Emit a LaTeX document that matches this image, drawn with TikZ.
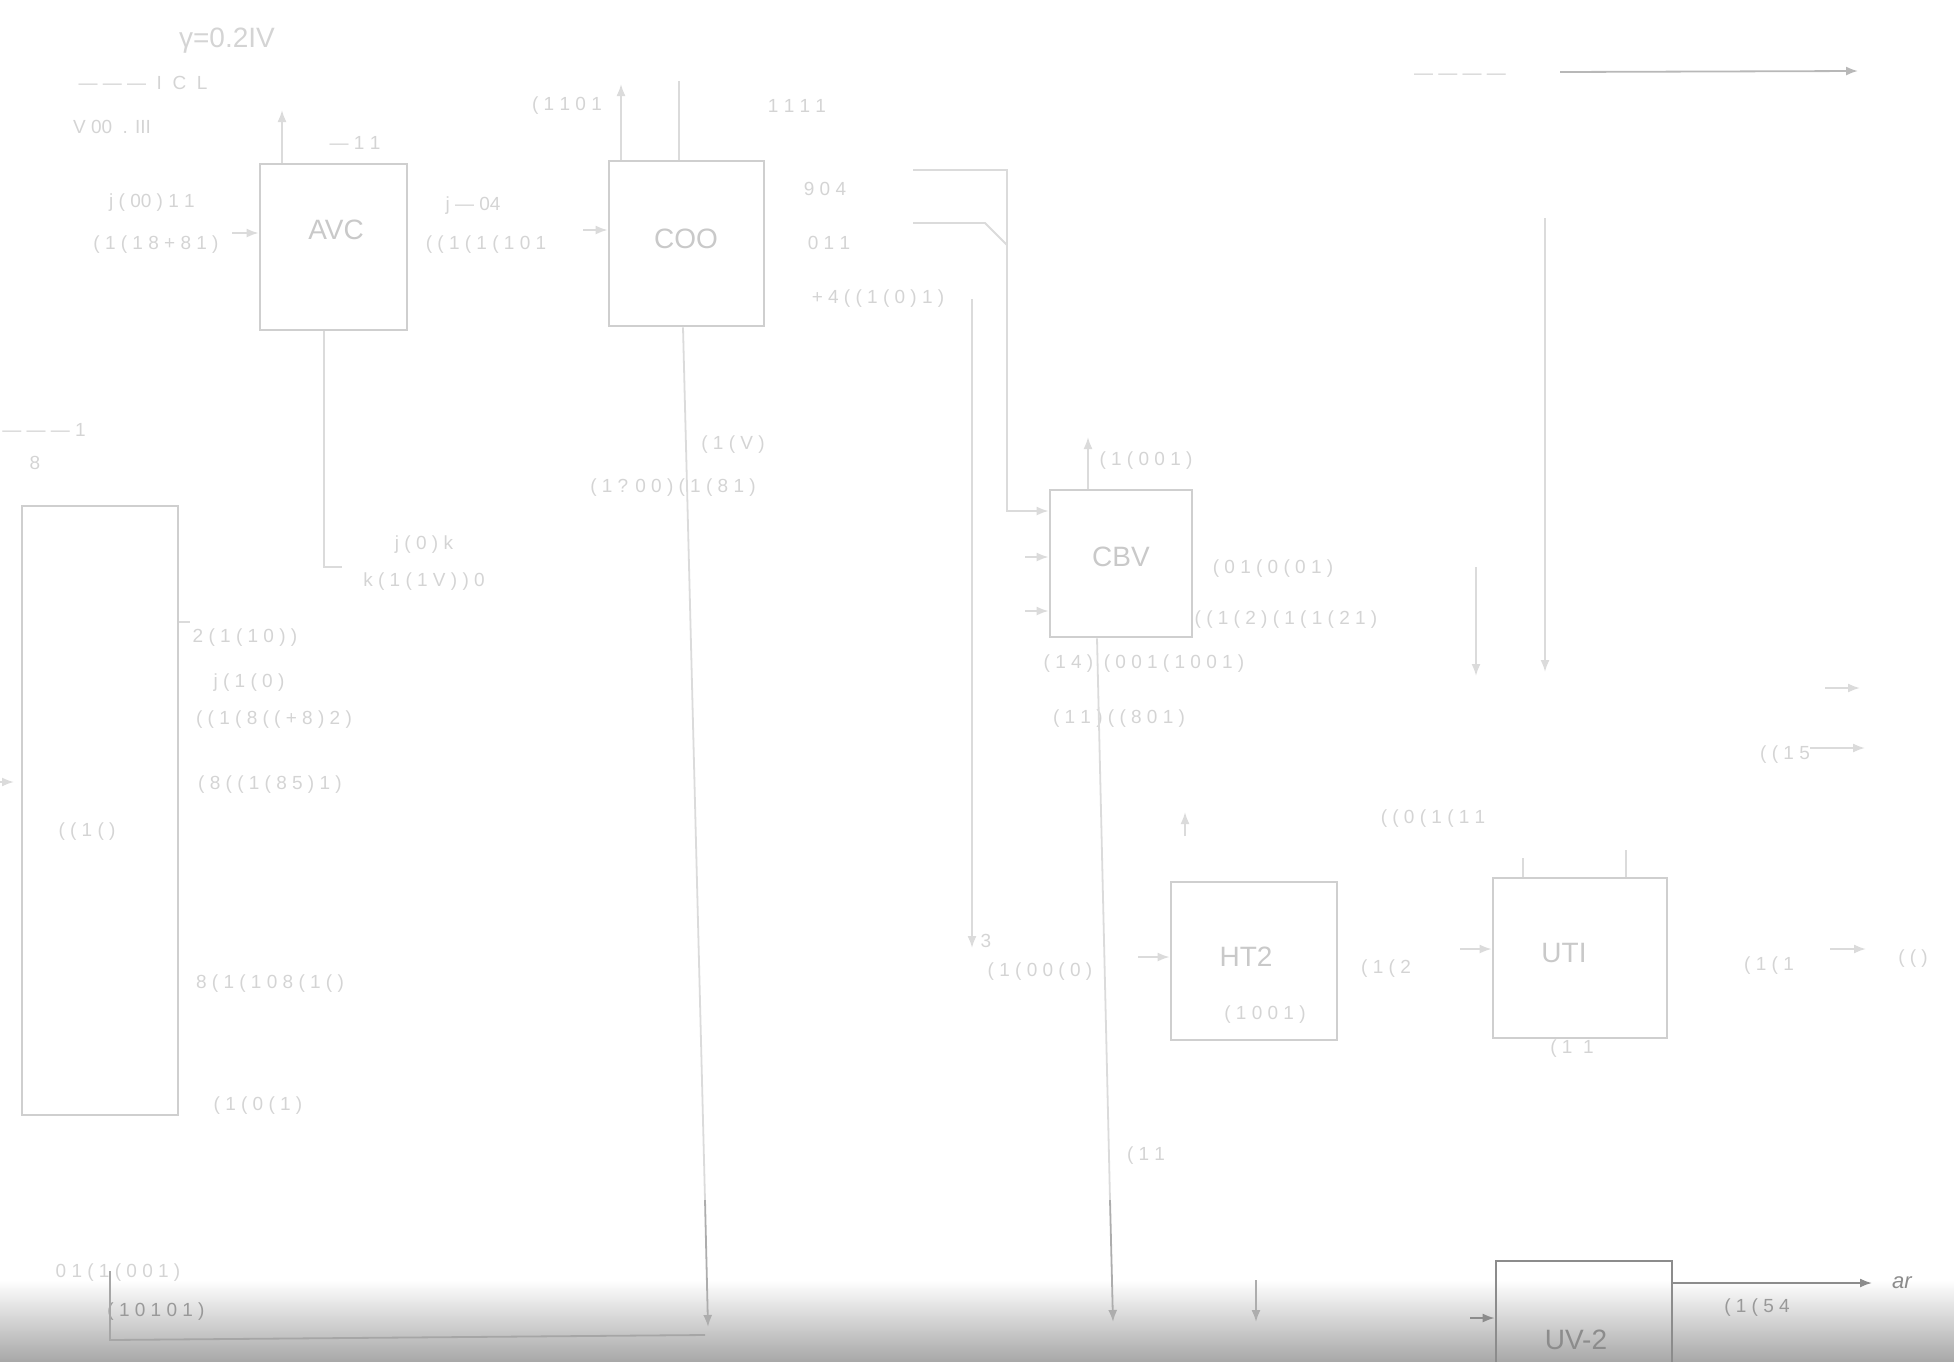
\documentclass[tikz,border=0pt]{standalone}
\usepackage{fontspec}
\setmainfont{Liberation Sans}
\usetikzlibrary{arrows.meta}
\begin{document}
\begin{tikzpicture}[x=0.5pt,y=-0.5pt,
 ln/.style={draw=black!14, line width=0.9pt},
 ar/.style={ln, -{Latex[length=6pt,width=4.5pt]}},
 bx/.style={draw=black!19, line width=1.4pt, inner sep=0pt, rectangle},
 tx/.style={text=black!17, font=\fontsize{9.5}{10}\selectfont, inner sep=0pt},
 lbl/.style={text=black!21, font=\fontsize{14}{16}\selectfont, inner sep=0pt},
 dk/.style={draw=black!45},
 md/.style={draw=black!32},
]
\useasboundingbox (0,0) rectangle (1954,1361);
\shade[top color=white, bottom color=black!34] (0,1280) rectangle (1954,1361);

% boxes
\node[bx, minimum width=73.5pt, minimum height=83pt] (avc) at (333.5,247) {};
\node[bx, minimum width=77.5pt, minimum height=82.5pt] (coo) at (686.5,243.5) {};
\node[bx, minimum width=71pt, minimum height=73.5pt] (cbv) at (1121,563.5) {};
\node[bx, minimum width=78pt, minimum height=304.5pt] (lft) at (100,810.5) {};
\node[bx, minimum width=83pt, minimum height=79pt] (ht) at (1254,961) {};
\node[bx, minimum width=87pt, minimum height=80pt] (ut) at (1580,958) {};
\node[bx, dk, minimum width=88pt, minimum height=55pt] (uv) at (1584,1316) {};

% box labels
\node[lbl] (lavc) at (336,230) {AVC};
\node[lbl] (lcoo) at (686,239) {COO};
\node[lbl] (lcbv) at (1121,557) {CBV};
\node[lbl] (lht) at (1246,957) {HT2};
\node[lbl] (lut) at (1564,953) {UTI};
\node[lbl, text=black!45] (luv) at (1576,1340) {UV-2};

% texts
\node[tx, font=\fontsize{14}{15}\selectfont] (t1) at (227,41) {γ=0.2IV};
\node[tx] (t2) at (143,83) {— — — \ I \ C \ L};
\node[tx] (t3) at (112,127) {V 00 \ . III};
\node[tx] (t4) at (355,143) {— 1 1};
\node[tx] (t5) at (152,203) {j ( 00 ) 1 1};
\node[tx] (t6) at (156,245) {( 1 ( 1 8 + 8 1 )};
\node[tx] (t7) at (473,206) {j — 04};
\node[tx] (t8) at (486,245) {( ( 1 ( 1 ( 1 0 1};
\node[tx] (t9) at (567,106) {( 1 1 0 1};
\node[tx] (t10) at (797,106) {1 1 1 1};
\node[tx] (t11) at (825,189) {9 0 4};
\node[tx] (t12) at (829,243) {0 1 1};
\node[tx] (t13) at (878,299) {+ 4 ( ( 1 ( 0 ) 1 )};
\node[tx] (t14) at (1146,461) {( 1 ( 0 0 1 )};
\node[tx] (t15) at (1273,569) {( 0 1 ( 0 ( 0 1 )};
\node[tx] (t16) at (1286,620) {( ( 1 ( 2 ) ( 1 ( 1 ( 2 1 )};
\node[tx] (t17) at (1144,664) {( 1 4 ) \ ( 0 0 1 ( 1 0 0 1 )};
\node[tx] (t18) at (1119,719) {( 1 1 ) ( ( 8 0 1 )};
\node[tx] (t19) at (1146,1156) {( 1 1};
\node[tx] (t20) at (1040,972) {( 1 ( 0 0 ( 0 )};
\node[tx] (t21) at (1265,1015) {( 1 0 0 1 )};
\node[tx] (t22) at (1433,819) {( ( 0 ( 1 ( 1 1};
\node[tx] (t23) at (1386,969) {( 1 ( 2};
\node[tx] (t24) at (1572,1049) {( 1 \ 1};
\node[tx] (t25) at (1769,966) {( 1 ( 1};
\node[tx] (t26) at (1913,959) {( ( )};
\node[tx] (t27) at (1785,755) {( ( 1 5};
\node[tx] (t28) at (44,430) {— — — 1};
\node[tx] (t29) at (35,463) {8};
\node[tx] (t30) at (245,638) {2 ( 1 ( 1 0 ) )};
\node[tx] (t31) at (249,683) {j ( 1 ( 0 )};
\node[tx] (t32) at (274,720) {( ( 1 ( 8 ( ( + 8 ) 2 )};
\node[tx] (t33) at (270,785) {( 8 ( ( 1 ( 8 5 ) 1 )};
\node[tx] (t34) at (270,984) {8 ( 1 ( 1 0 8 ( 1 ( )};
\node[tx] (t35) at (258,1106) {( 1 ( 0 ( 1 )};
\node[tx] (t36) at (87,832) {( ( 1 ( )};
\node[tx] (t37) at (424,545) {j ( 0 ) k};
\node[tx] (t38) at (424,582) {k ( 1 ( 1 V ) ) 0};
\node[tx] (t39) at (733,445) {( 1 ( V )};
\node[tx] (t40) at (673,488) {( 1 ? 0 0 ) ( 1 ( 8 1 )};
\node[tx] (t41) at (118,1273) {0 1 ( 1 ( 0 0 1 )};
\node[tx, text=black!40] (t42) at (156,1312) {( 1 0 1 0 1 )};
\node[tx, text=black!40] (t43) at (1757,1308) {( 1 ( 5 4};
\node[tx, text=black!45, font=\fontsize{11}{12}\selectfont\itshape] (t44) at (1902,1283) {ar};
\node[tx] (t45) at (986,941) {3};
\node[tx] (t46) at (1460,77) {— — — —};

% coordinates for free ends
\coordinate (avcUp) at (282,110);
\coordinate (avcIn) at (232,233);
\coordinate (cooIn) at (583,230);
\coordinate (cooUp) at (621,84);
\coordinate (cooTop) at (679,81);
\coordinate (r1) at (913,170);
\coordinate (r2) at (1007,170);
\coordinate (r3) at (1007,511);
\coordinate (r4) at (913,223);
\coordinate (r5) at (985,223);
\coordinate (r6) at (1007,245);
\coordinate (v1a) at (972,299);
\coordinate (v1b) at (972,948);
\coordinate (cbvUp) at (1088,437);
\coordinate (cbvI2) at (1025,557);
\coordinate (cbvI3) at (1025,611);
\coordinate (cbvX) at (1097,0);
\coordinate (cbvMid) at (1110,1200);
\coordinate (cbvDn) at (1113,1322);
\coordinate (v2a) at (1256,1280);
\coordinate (v2b) at (1256,1322);
\coordinate (htIn) at (1138,957);
\coordinate (htUpA) at (1185,836);
\coordinate (htUpB) at (1185,812);
\coordinate (utIn) at (1460,949);
\coordinate (utT1) at (1523,858);
\coordinate (utT2) at (1626,850);
\coordinate (utOa) at (1830,949);
\coordinate (utOb) at (1866,949);
\coordinate (rv1a) at (1545,218);
\coordinate (rv1b) at (1545,672);
\coordinate (rv2a) at (1476,567);
\coordinate (rv2b) at (1476,676);
\coordinate (ra1) at (1825,688);
\coordinate (ra2) at (1860,688);
\coordinate (rb1) at (1810,748);
\coordinate (rb2) at (1865,748);
\coordinate (tra) at (1560,72);
\coordinate (trb) at (1858,71);
\coordinate (avcX) at (324,0);
\coordinate (avcB1) at (324,567);
\coordinate (avcB2) at (342,567);
\coordinate (cooX) at (683,0);
\coordinate (cooMid) at (705,1200);
\coordinate (cooDn) at (708,1327);
\coordinate (lfT) at (190,622);
\coordinate (lfEa) at (0,782);
\coordinate (lfEb) at (14,782);
\coordinate (bl1) at (110,1271);
\coordinate (bl2) at (110,1340);
\coordinate (bl3) at (705,1335);
\coordinate (uvIn) at (1470,1318);
\coordinate (uvOut) at (1872,1283);

% connectors
\draw[ar] (avc.north -| avcUp) -- (avcUp);
\draw[ar] (avcIn) -- (avc.west |- avcIn);
\draw[ar] (cooIn) -- (coo.west |- cooIn);
\draw[ar] (coo.north -| cooUp) -- (cooUp);
\draw[ln] (coo.north -| cooTop) -- (cooTop);
\draw[ar] (r1) -- (r2) -- (r3) -- (cbv.west |- r3);
\draw[ln] (r4) -- (r5) -- (r6);
\draw[ar] (v1a) -- (v1b);
\draw[ar] (cbv.north -| cbvUp) -- (cbvUp);
\draw[ar] (cbvI2) -- (cbv.west |- cbvI2);
\draw[ar] (cbvI3) -- (cbv.west |- cbvI3);
\draw[ln] (cbv.south -| cbvX) -- (cbvMid);
\draw[ar, md] (cbvMid) -- (cbvDn);
\draw[ar, md] (v2a) -- (v2b);
\draw[ar] (htIn) -- (ht.west |- htIn);
\draw[ar] (htUpA) -- (htUpB);
\draw[ar] (utIn) -- (ut.west |- utIn);
\draw[ln] (ut.north -| utT1) -- (utT1);
\draw[ln] (ut.north -| utT2) -- (utT2);
\draw[ar] (utOa) -- (utOb);
\draw[ar] (rv1a) -- (rv1b);
\draw[ar] (rv2a) -- (rv2b);
\draw[ar] (ra1) -- (ra2);
\draw[ar] (rb1) -- (rb2);
\draw[ar, draw=black!28] (tra) -- (trb);
\draw[ln] (avc.south -| avcX) -- (avcB1) -- (avcB2);
\draw[ln] (coo.south -| cooX) -- (cooMid);
\draw[ar, md] (cooMid) -- (cooDn);
\draw[ln] (lft.east |- lfT) -- (lfT);
\draw[ar] (lfEa) -- (lfEb);
\draw[ln, draw=black!35] (bl1) -- (bl2) -- (bl3);
\draw[ar, dk] (uvIn) -- (uv.west |- uvIn);
\draw[ar, dk] (uv.east |- uvOut) -- (uvOut);
\end{tikzpicture}
\end{document}
